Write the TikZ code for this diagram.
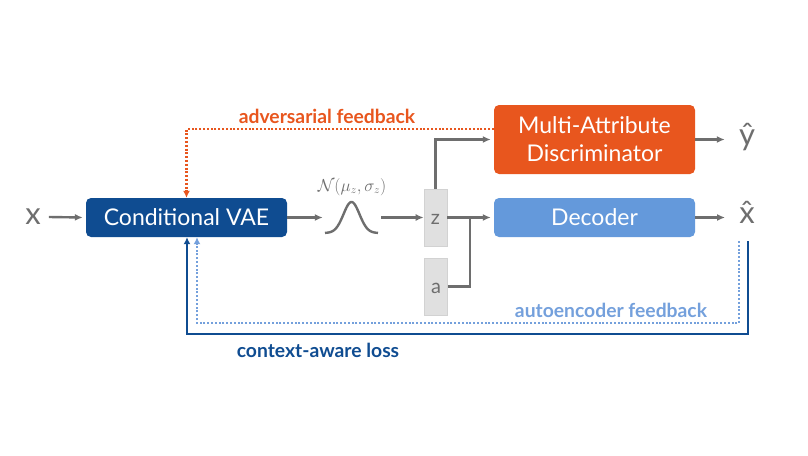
\documentclass[tikz,border=0pt]{standalone}
\usepackage{fontspec}
\setmainfont{Lato}
\usetikzlibrary{arrows.meta,calc}
\definecolor{dblue}{HTML}{0F4C91}
\definecolor{orng}{HTML}{E8561E}
\definecolor{lblue}{HTML}{6499DB}
\definecolor{lbluel}{HTML}{74A0DC}
\definecolor{gry}{HTML}{6E6E6E}
\definecolor{boxg}{HTML}{E0E0E0}
\definecolor{boxgd}{HTML}{D2D2D2}
\tikzset{
  blk/.style={rectangle, rounded corners=5pt, minimum width=201pt, text=white, font=\fontsize{23}{28}\selectfont, inner sep=0pt, align=center},
  vec/.style={rectangle, fill=boxg, draw=boxgd, line width=0.6pt, minimum width=23pt, minimum height=57pt, inner sep=0pt, text=gry, font=\fontsize{20}{22}\selectfont, text height=13pt, text depth=0pt},
  big/.style={inner sep=0pt, text=gry, font=\fontsize{31}{34}\selectfont},
  arr/.style={draw=gry, line width=2.4pt, -{Latex[length=8pt,width=7pt]}},
  gline/.style={draw=gry, line width=2.4pt},
  dotl/.style={line width=2.2pt, dash pattern=on 2pt off 1.8pt},
  fbarr/.style={-{Latex[length=7pt,width=7pt]}},
  lab/.style={inner sep=0pt, font=\fontsize{19.3}{22}\selectfont\bfseries}
}
\begin{document}
\begin{tikzpicture}[x=1pt,y=-1pt]
\useasboundingbox (0,0) rectangle (808,455);
% nodes
\node[big] (xin) at (33,217) {x};
\node[blk, fill=dblue, minimum height=39pt] (vae) at (186.5,217.5) {Conditional VAE};
\node[inner sep=0pt, minimum width=53pt, minimum height=31pt] (gauss) at (351.5,217.5) {};
\draw[gline] plot[domain=-1:1,samples=60,smooth] ({351.5+26.5*\x},{233-31*exp(-5.5*\x*\x)});
\node[inner sep=0pt, text=gry, font=\fontsize{16}{18}\selectfont] (nlab) at (352,187) {$\mathcal{N}(\mu_z,\sigma_z)$};
\node[vec] (z) at (435.5,217.5) {z};
\node[vec] (a) at (436,286.5) {a};
\coordinate (j) at (470,217.5);
\node[blk, fill=orng, minimum height=69pt] (disc) at (594.5,139.5) {Multi-Attribute\\Discriminator};
\node[blk, fill=lblue, minimum height=39pt] (dec) at (594.5,217.5) {Decoder};
\node[big] (yhat) at (747,137) {\^{y}};
\node[big] (xhat) at (747,212) {\^{x}};
\node[lab, text=orng] (advl) at (327,116) {adversarial feedback};
\node[lab, text=lbluel] (autol) at (611,310) {autoencoder feedback};
\node[lab, text=dblue] (ctxl) at (318,350) {context-aware loss};
\coordinate (cs) at (748,241);
\coordinate (as) at (739,241);
% connectors
\draw[arr] ([xshift=8pt]xin.east) -- ([xshift=-3pt]vae.west);
\draw[arr] (vae.east) -- ([xshift=-2pt]gauss.west);
\draw[arr] ([xshift=3pt]gauss.east) -- (z.west);
\draw[arr] (z.east) -- ([xshift=-3pt]dec.west);
\draw[arr] (z.north) |- ([xshift=-3pt]disc.west);
\draw[gline] (a.east) -| (j);
\draw[arr] (disc.east) -- ([xshift=-14pt]yhat.west |- disc.east);
\draw[arr] (dec.east) -- ([xshift=-14pt]xhat.west |- dec.east);
\draw[draw=orng, dotl, fbarr] ([yshift=10.5pt]disc.west) -| (vae.north);
\draw[draw=dblue, line width=2.4pt, fbarr] (cs) |- (187,334) -- (vae.south -| 187,0);
\draw[draw=lbluel, dotl, fbarr] (as) |- (197,323) -- (vae.south -| 197,0);
\end{tikzpicture}
\end{document}
